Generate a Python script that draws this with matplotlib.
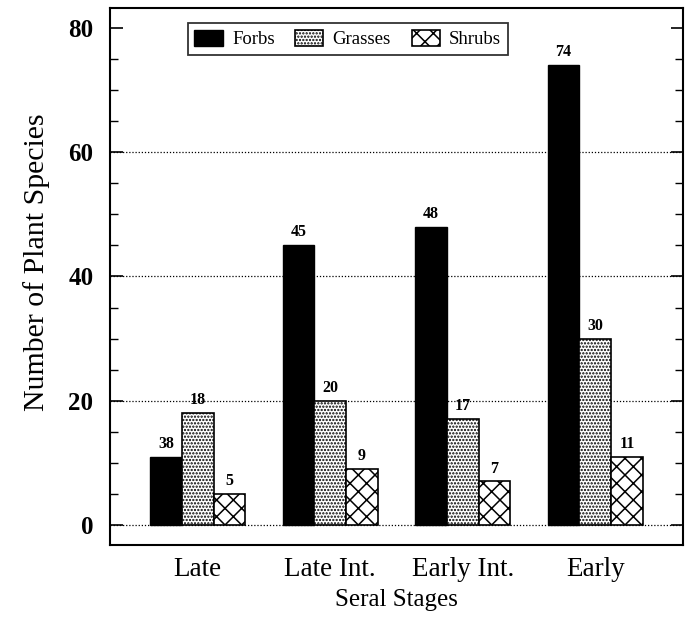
import numpy as np
import matplotlib
matplotlib.use("Agg")
import matplotlib.pyplot as plt
from matplotlib.ticker import MultipleLocator

# data
stages = ["Late", "Late Int.", "Early Int.", "Early"]
forbs = [11, 45, 48, 74]
grasses = [18, 20, 17, 30]
shrubs = [5, 9, 7, 11]
# printed labels (the first forbs label in the original reads 38)
forbs_lbl = ["38", "45", "48", "74"]
grasses_lbl = ["18", "20", "17", "30"]
shrubs_lbl = ["5", "9", "7", "11"]

plt.rcParams['font.family'] = ['Liberation Serif', 'DejaVu Serif']
plt.rcParams['hatch.linewidth'] = 1.1

fig = plt.figure(figsize=(6.9, 6.17), dpi=100)
ax = fig.add_axes([0.1594, 0.1167, 0.8305, 0.8703])

x = np.arange(len(stages))
w = 0.24

ax.set_axisbelow(True)
for yv in [0, 20, 40, 60]:
    ax.axhline(yv, color='black', linestyle=(0, (1, 1.5)), linewidth=0.9, zorder=0)

b1 = ax.bar(x - w, forbs, w, color='black', edgecolor='black', linewidth=1.0, label='Forbs')
b2 = ax.bar(x, grasses, w, color='white', edgecolor='black', linewidth=1.2,
            hatch='.....', label='Grasses')
b3 = ax.bar(x + w, shrubs, w, color='white', edgecolor='black', linewidth=1.2,
            hatch='xx', label='Shrubs')

for bars, labels in [(b1, forbs_lbl), (b2, grasses_lbl), (b3, shrubs_lbl)]:
    for bar, t in zip(bars, labels):
        ax.text(bar.get_x() + bar.get_width() / 2, bar.get_height() + 0.8, t,
                ha='center', va='bottom', fontsize=11.5, fontweight='bold')

ax.set_xlim(-0.663, 3.663)
ax.set_ylim(-3.22, 83.2)
ax.set_xticks(x)
ax.set_xticklabels(stages, fontsize=19.5)
ax.tick_params(axis='x', length=0, pad=9)
ax.yaxis.set_major_locator(MultipleLocator(20))
ax.yaxis.set_minor_locator(MultipleLocator(5))
ax.tick_params(axis='y', which='major', direction='in', length=9, width=1.2,
               right=True, labelsize=18, pad=12)
ax.tick_params(axis='y', which='minor', direction='in', length=6, width=1.0, right=True)
for lab in ax.get_yticklabels():
    lab.set_fontweight('bold')
for s in ax.spines.values():
    s.set_linewidth(1.5)

ax.set_ylabel("Number of Plant Species", fontsize=21.5)
ax.yaxis.set_label_coords(-0.105, 0.527)
ax.set_xlabel("Seral Stages", fontsize=18, labelpad=5)

leg = ax.legend(loc='upper left', bbox_to_anchor=(0.136, 0.972), ncol=3,
                frameon=True, fancybox=False, edgecolor='black', fontsize=13.5,
                handlelength=1.5, handleheight=1.0, columnspacing=1.1,
                handletextpad=0.5, borderpad=0.35, borderaxespad=0)
leg.get_frame().set_linewidth(1.3)

fig.savefig("out.png", dpi=100)
